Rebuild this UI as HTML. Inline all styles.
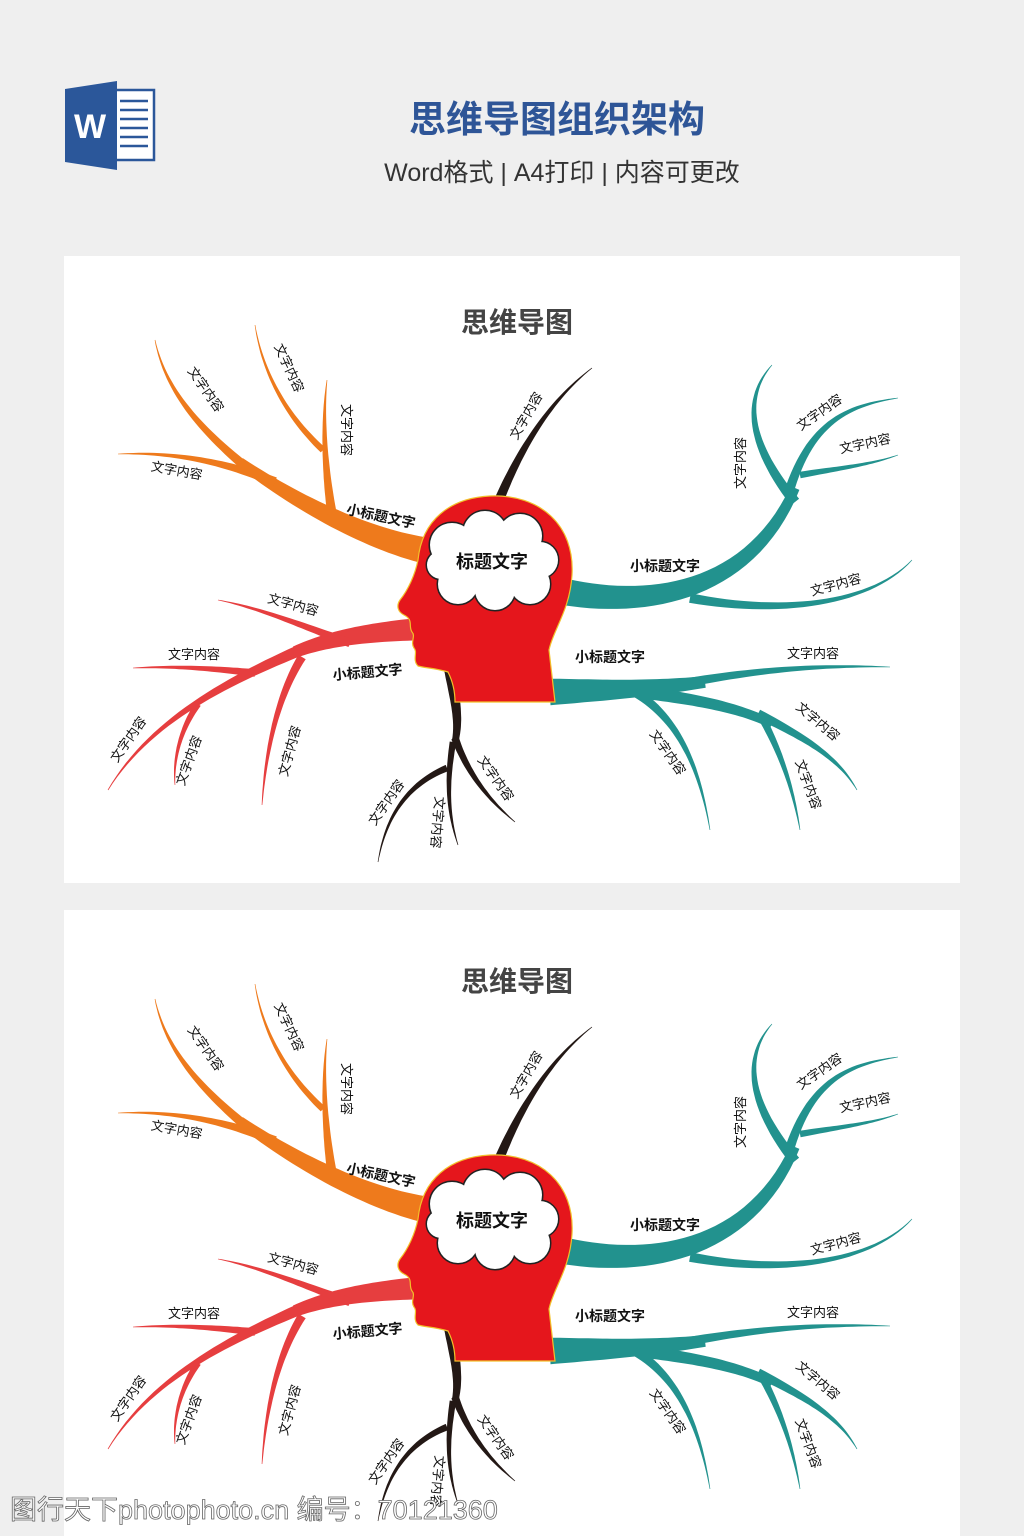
<!DOCTYPE html>
<html><head><meta charset="utf-8">
<style>
html,body{margin:0;padding:0;background:#efefef;}
svg{display:block;}
text{font-family:"Liberation Sans","Noto Sans CJK SC",sans-serif;}
</style></head>
<body>
<svg id="s" width="1024" height="1536" viewBox="0 0 1024 1536" xmlns="http://www.w3.org/2000/svg">
<rect width="1024" height="1536" fill="#efefef"/>
<rect x="112" y="90" width="42" height="70" fill="#fff" stroke="#2b579a" stroke-width="2.5"/>
<g stroke="#2b579a" stroke-width="2.6">
<line x1="120" y1="101" x2="148" y2="101"/><line x1="120" y1="110" x2="148" y2="110"/>
<line x1="120" y1="119" x2="148" y2="119"/><line x1="120" y1="128" x2="148" y2="128"/>
<line x1="120" y1="137" x2="148" y2="137"/><line x1="120" y1="146" x2="148" y2="146"/>
</g>
<polygon points="65,89 117,81 117,170 65,162" fill="#2b579a"/>
<text x="90" y="138" font-size="34" font-weight="bold" fill="#fff" text-anchor="middle">W</text>
<text x="557" y="132" font-size="37" font-weight="bold" fill="#2e5597" text-anchor="middle">思维导图组织架构</text>
<text x="562" y="181" font-size="25" fill="#333" text-anchor="middle">Word格式 | A4打印 | 内容可更改</text>
<rect x="64" y="256" width="896" height="627" fill="#fff"/>
<rect x="64" y="910" width="896" height="626" fill="#fff"/>
<g id="m1">
<text x="517" y="332" font-size="28" font-weight="bold" fill="#444" text-anchor="middle">思维导图</text>
<g id="br"></g>
<path d="M490 496 C540 494 575 525 572 575 C570 610 553 630 549 650 L555 702 L455 702 C455 690 452 680 448 672 C435 668 425 668 418 666 C412 660 418 652 414 648 C410 642 416 636 412 632 C408 626 414 620 404 615 C398 612 396 606 400 600 C408 590 415 575 418 560 C422 520 450 498 490 496 Z" fill="#e5161c" stroke="#f2c02a" stroke-width="1.2"/>
<g fill="#222" stroke="#222" stroke-width="3">
<circle cx="452" cy="545" r="22"/><circle cx="485" cy="533" r="22"/><circle cx="520" cy="536" r="22"/><circle cx="540" cy="560" r="18"/><circle cx="530" cy="584" r="20"/><circle cx="495" cy="590" r="20"/><circle cx="458" cy="584" r="20"/><circle cx="441" cy="565" r="14"/>
</g>
<g fill="#fff">
<circle cx="452" cy="545" r="22"/><circle cx="485" cy="533" r="22"/><circle cx="520" cy="536" r="22"/><circle cx="540" cy="560" r="18"/><circle cx="530" cy="584" r="20"/><circle cx="495" cy="590" r="20"/><circle cx="458" cy="584" r="20"/><circle cx="441" cy="565" r="14"/><circle cx="492" cy="562" r="35"/>
</g>
<text x="492" y="568" font-size="18" font-weight="bold" fill="#111" text-anchor="middle">标题文字</text>
<g font-size="14" font-weight="bold" fill="#111" text-anchor="middle">
<text transform="translate(380,521) rotate(12)">小标题文字</text>
<text transform="translate(665,571)">小标题文字</text>
<text transform="translate(610,662)">小标题文字</text>
<text transform="translate(368,677) rotate(-5)">小标题文字</text>
</g>
<g font-size="13" fill="#111" text-anchor="middle">
<text transform="translate(202,392) rotate(55)">文字内容</text>
<text transform="translate(285,370) rotate(65)">文字内容</text>
<text transform="translate(342,430) rotate(90)">文字内容</text>
<text transform="translate(176,475) rotate(10)">文字内容</text>
<text transform="translate(530,418) rotate(-60)">文字内容</text>
<text transform="translate(745,463) rotate(-90)">文字内容</text>
<text transform="translate(822,416) rotate(-35)">文字内容</text>
<text transform="translate(866,448) rotate(-12)">文字内容</text>
<text transform="translate(837,589) rotate(-15)">文字内容</text>
<text transform="translate(813,658)">文字内容</text>
<text transform="translate(815,725) rotate(40)">文字内容</text>
<text transform="translate(804,786) rotate(70)">文字内容</text>
<text transform="translate(664,755) rotate(55)">文字内容</text>
<text transform="translate(292,609) rotate(15)">文字内容</text>
<text transform="translate(194,659)">文字内容</text>
<text transform="translate(132,742) rotate(-55)">文字内容</text>
<text transform="translate(193,762) rotate(-70)">文字内容</text>
<text transform="translate(294,752) rotate(-75)">文字内容</text>
<text transform="translate(390,805) rotate(-55)">文字内容</text>
<text transform="translate(492,781) rotate(55)">文字内容</text>
<text transform="translate(433,822) rotate(95)">文字内容</text>
</g>
</g>
<use href="#m1" transform="translate(0,659)"/>
<text x="10" y="1519" font-size="27" fill="#fff" stroke="#666" stroke-width="0.8">图行天下photophoto.cn 编号：70121360</text>
</svg>
<script>
var B=[
["#ee7a1c",[[428,551],[370,540],[300,505],[240,462]],26,9],
["#ee7a1c",[[275,482],[220,460],[170,452],[118,454]],9,0],
["#ee7a1c",[[252,472],[200,430],[165,390],[155,340]],9,0],
["#ee7a1c",[[332,514],[325,470],[322,420],[327,380]],9,0],
["#ee7a1c",[[323,450],[285,415],[262,370],[255,325]],6,0],
["#22928e",[[565,592],[650,608],[750,592],[795,488]],26,9],
["#22928e",[[795,502],[745,440],[745,395],[772,365]],10,0],
["#22928e",[[788,495],[810,420],[850,405],[898,398]],9,0],
["#22928e",[[800,475],[840,468],[870,465],[898,455]],6,0],
["#22928e",[[690,598],[780,615],[870,605],[912,560]],9,0],
["#22928e",[[550,692],[600,690],[640,690],[705,682]],26,11],
["#22928e",[[670,686],[760,668],[830,665],[890,667]],9,0],
["#22928e",[[635,692],[680,720],[700,770],[710,830]],9,0],
["#22928e",[[640,692],[700,700],[740,708],[772,724]],12,8],
["#22928e",[[758,714],[810,740],[840,760],[857,790]],9,0],
["#22928e",[[762,718],[785,760],[795,800],[800,830]],7,0],
["#e63e3f",[[422,629],[370,632],[330,638],[295,652]],22,11],
["#e63e3f",[[350,643],[300,625],[260,608],[218,600]],8,0],
["#e63e3f",[[255,673],[210,668],[170,666],[133,668]],7,0],
["#e63e3f",[[305,648],[230,680],[150,720],[108,790]],11,0],
["#e63e3f",[[198,704],[180,730],[173,760],[175,785]],6,0],
["#e63e3f",[[302,657],[275,700],[265,760],[262,805]],8,0],
["#231815",[[500,498],[520,450],[550,400],[592,368]],9,0],
["#231815",[[450,670],[455,700],[460,720],[455,742]],11,6],
["#231815",[[455,738],[470,780],[495,805],[515,822]],7,0],
["#231815",[[453,742],[445,790],[450,820],[458,845]],6,0],
["#231815",[[447,768],[405,785],[385,820],[378,862]],6,0]
];
function bz(p,t){var u=1-t;return [u*u*u*p[0][0]+3*u*u*t*p[1][0]+3*u*t*t*p[2][0]+t*t*t*p[3][0],u*u*u*p[0][1]+3*u*u*t*p[1][1]+3*u*t*t*p[2][1]+t*t*t*p[3][1]];}
var g=document.getElementById("br"),h="";
B.forEach(function(b){var p=b[1],L=[],R=[],N=30;
for(var i=0;i<=N;i++){var t=i/N,a=bz(p,Math.max(0,t-0.01)),c=bz(p,Math.min(1,t+0.01)),q=bz(p,t);
var dx=c[0]-a[0],dy=c[1]-a[1],l=Math.hypot(dx,dy)||1,nx=-dy/l,ny=dx/l,w=(b[2]+(b[3]-b[2])*t)/2+0.3;
L.push((q[0]+nx*w).toFixed(1)+","+(q[1]+ny*w).toFixed(1));R.unshift((q[0]-nx*w).toFixed(1)+","+(q[1]-ny*w).toFixed(1));}
h+='<polygon fill="'+b[0]+'" points="'+L.concat(R).join(" ")+'"/>';});
g.innerHTML=h;
</script>
</body></html>
